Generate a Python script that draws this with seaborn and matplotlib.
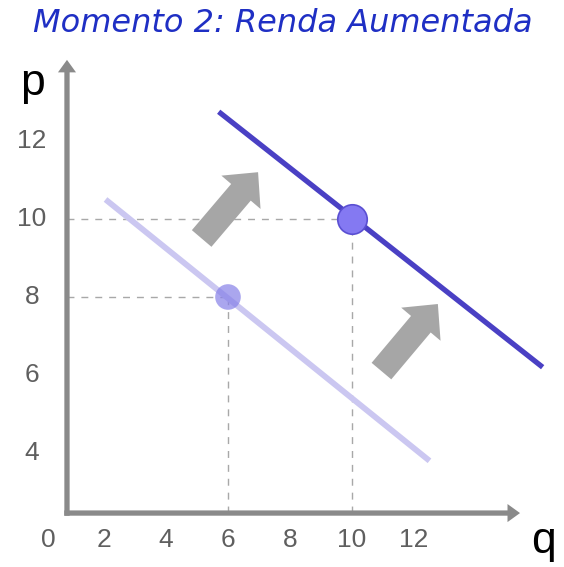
import numpy as np
import pandas as pd
import matplotlib
matplotlib.use("Agg")
import matplotlib.pyplot as plt
import seaborn as sns

# ---- data ----
title = "Momento 2: Renda Aumentada"
x_ticks = [2, 4, 6, 8, 10, 12]
y_ticks = [4, 6, 8, 10, 12]
old_q = [2.05, 12.5]
old_p = [10.5, 3.8]
new_q = [5.7, 16.15]
new_p = [12.75, 6.2]
eq_old_q, eq_old_p = [6], [8]
eq_new_q, eq_new_p = [10], [10]
shift_from_q = [5.15, 10.95]
shift_from_p = [9.5, 6.1]
shift_to_q = [6.97, 12.77]
shift_to_p = [11.2, 7.82]

sns.set_theme(style="white")
plt.rcParams['font.family'] = ['Liberation Sans', 'DejaVu Sans']

fig = plt.figure(figsize=(5.64, 5.67), dpi=100)
ax = fig.add_axes([0, 0, 1, 1])
ax.set_xlim(-1.3548, 16.839)
ax.set_ylim(1.0769, 15.615)
ax.axis('off')

X0, Y0 = 0.806, 2.46
XT, YT = 15.42, 14.08
axis_gray = '#8a8a8a'
px_q = 1 / 31.0
px_p = 1 / 39.0

# axes with arrowheads
axis_style = "simple,head_length=9,head_width=13,tail_width=3.8"
ax.annotate("", xy=(X0, YT), xytext=(X0, Y0 - 2.7 * px_p),
            arrowprops=dict(arrowstyle=axis_style, mutation_scale=1, color=axis_gray,
                            shrinkA=0, shrinkB=0, lw=0), zorder=2)
ax.annotate("", xy=(XT, Y0), xytext=(X0 - 2.7 * px_q, Y0),
            arrowprops=dict(arrowstyle=axis_style, mutation_scale=1, color=axis_gray,
                            shrinkA=0, shrinkB=0, lw=0), zorder=2)

# dashed guides
dash_kw = dict(color='#a8a8a8', lw=1.0, dashes=(5, 5), zorder=1)
for q, p in zip(eq_old_q + eq_new_q, eq_old_p + eq_new_p):
    ax.plot([X0, q], [p, p], **dash_kw)
    ax.plot([q, q], [Y0, p], **dash_kw)

# demand lines
df_old = pd.DataFrame({'q': old_q, 'p': old_p})
df_new = pd.DataFrame({'q': new_q, 'p': new_p})
sns.lineplot(data=df_old, x='q', y='p', ax=ax, color='#cbc7f1', lw=4.2,
             solid_capstyle='butt', zorder=3)
sns.lineplot(data=df_new, x='q', y='p', ax=ax, color='#4a40c4', lw=3.8,
             solid_capstyle='butt', zorder=3)

# equilibrium points
sns.scatterplot(x=eq_old_q, y=eq_old_p, ax=ax, s=340, color='#8680e8', alpha=0.7,
                edgecolor='none', zorder=4)
sns.scatterplot(x=eq_new_q, y=eq_new_p, ax=ax, s=450, color='#8479f2',
                edgecolor='#5a4fd2', linewidth=1.2, zorder=5)

# shift arrows
shift_style = "simple,head_length=19,head_width=37,tail_width=18.5"
for fq, fp, tq, tp in zip(shift_from_q, shift_from_p, shift_to_q, shift_to_p):
    ax.annotate("", xy=(tq, tp), xytext=(fq, fp),
                arrowprops=dict(arrowstyle=shift_style, mutation_scale=1, color='#a6a6a6',
                                shrinkA=0, shrinkB=0, lw=0), zorder=4)

# tick labels
tick_color = '#5f5f5f'
for q in x_ticks:
    ax.text(q, 8 - 243 / 39, str(q), ha='center', va='center', fontsize=19, color=tick_color)
ax.text(0.19, 8 - 243 / 39, "0", ha='center', va='center', fontsize=19, color=tick_color)
for p in y_ticks:
    ax.text(-0.32, p, str(p), ha='center', va='center', fontsize=19, color=tick_color)

# axis names
ax.text(-0.32, 8 + (297 - 95) / 39, "p", ha='center', va='baseline', fontsize=32, color='black')
ax.text(6 + (544 - 228) / 31, 8 - (553 - 297) / 39, "q", ha='center', va='baseline',
        fontsize=32, color='black')

# title
ax.text(6 + (283 - 228) / 31, 8 + (297 - 24) / 39, title, ha='center', va='center',
        fontsize=23, color='#1f2fc4', style='italic', family=['DejaVu Sans'])

fig.savefig("out.png", dpi=100)
